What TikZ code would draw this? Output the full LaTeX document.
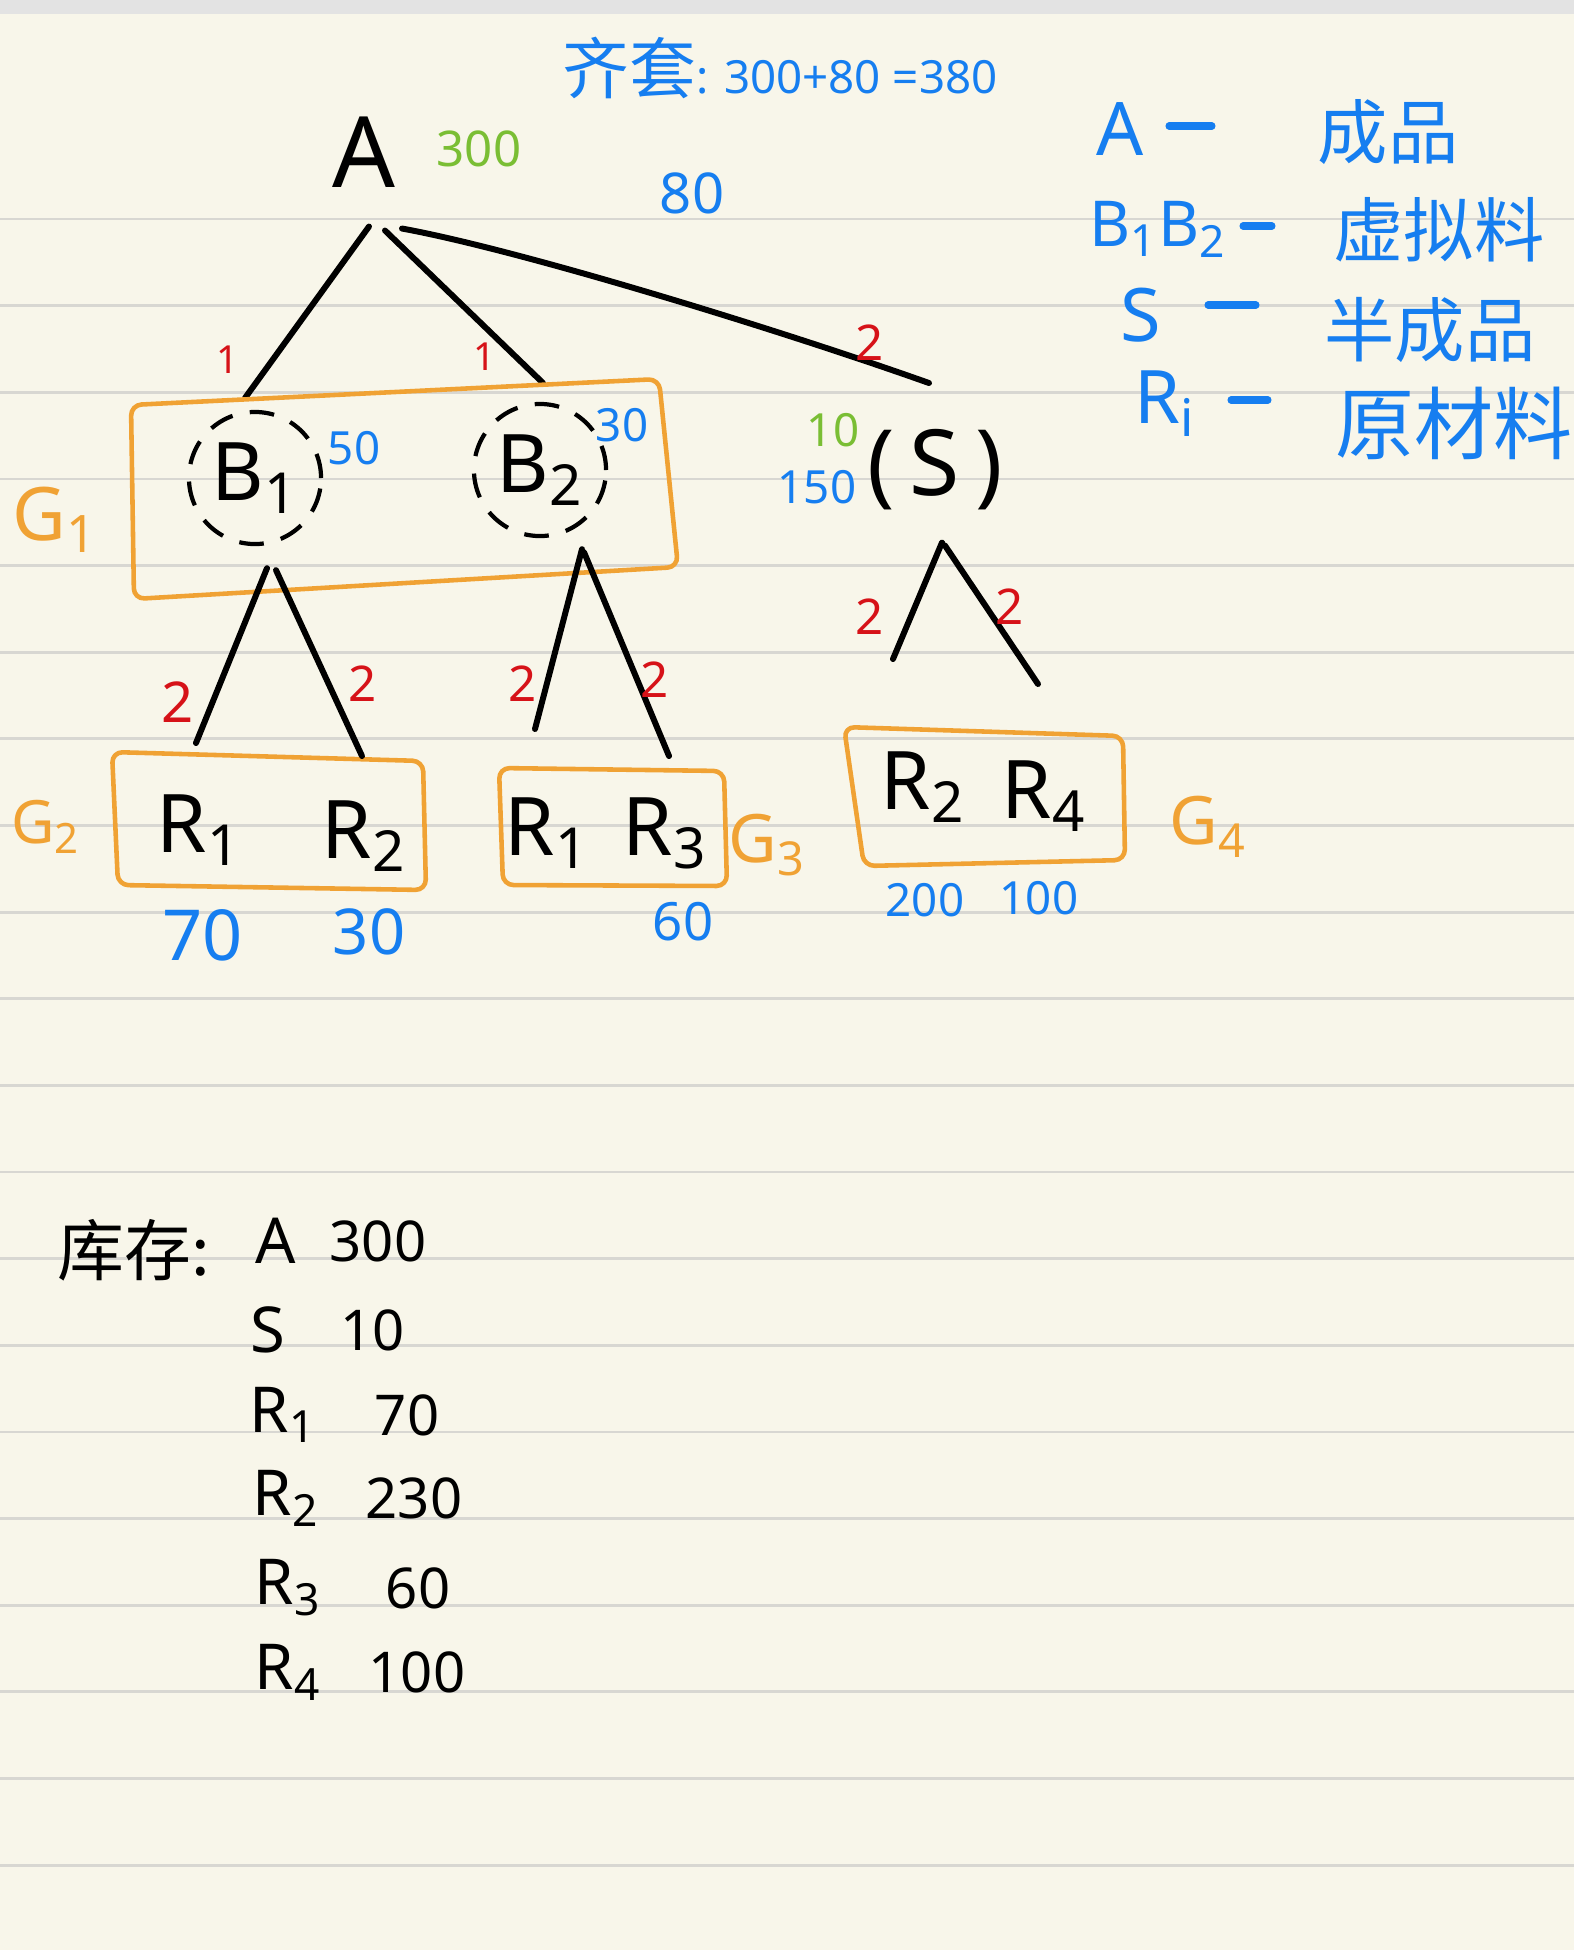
\documentclass[tikz,border=0pt]{standalone}
\usepackage{fontspec}
\setmainfont{Noto Sans}
\newfontfamily\cjk{Noto Sans CJK SC}

\definecolor{paper}{RGB}{248,246,234}
\definecolor{rulegray}{RGB}{216,215,210}
\definecolor{penblue}{RGB}{22,126,240}
\definecolor{pengreen}{RGB}{122,190,52}
\definecolor{penred}{RGB}{214,18,24}
\definecolor{penorange}{RGB}{240,162,52}

\newcommand{\fs}[1]{\fontsize{#1}{#1}\selectfont}

\begin{document}
\begin{tikzpicture}[x=0.01cm, y=-0.01cm,
    edge/.style={line width=1.7pt, line cap=round},
    grp/.style={draw=penorange, line width=1.3pt, rounded corners=3pt, line join=round},
    grplbl/.style={text=penorange, font=\fs{19}},
    part/.style={font=\fs{23}, inner sep=1pt},
    virt/.style={circle, draw, line width=1.2pt, dash pattern=on 7pt off 5pt, minimum size=1.32cm, inner sep=0pt, font=\fs{23}},
    qty/.style={text=penblue, font=\fs{14}},
    onhand/.style={text=pengreen, font=\fs{14}},
    mult/.style={text=penred, font=\fs{14}},
    legend/.style={text=penblue, font=\fs{21}},
    legdash/.style={penblue, line width=2pt, line cap=round},
    legendcn/.style={text=penblue, font=\cjk\fs{20}},
    stock/.style={font=\fs{16}}]

    % paper
    \fill[paper] (0,0) rectangle (1574,1950);
    \fill[gray!22] (0,0) rectangle (1574,14);
    \useasboundingbox (0,0) rectangle (1574,1950);
    \foreach \k in {0,...,19}
        \draw[rulegray, line width=0.8pt] (0,{219+86.64*\k}) -- (1574,{219+86.64*\k});

    % title
    \node[text=penblue, font=\fs{13}] (title) at (780,68) {{\cjk\fs{19}齐套}: 300+80 =380};

    % tree
    \node[part, font=\fs{28}] (A) at (364,152) {A};
    \node[onhand] (Aoh) at (479,149) {300};
    \node[qty, font=\fs{16}] (Aq) at (692,193) {80};

    \node[virt] (B1) at (255,478) {B\textsubscript{1}};
    \node[virt] (B2) at (540,470) {B\textsubscript{2}};
    \node[qty, font=\fs{13}] (B1q) at (354,448) {50};
    \node[qty, font=\fs{13}] (B2q) at (622,425) {30};

    \node[part, font=\fs{26}] (S) at (935,470) {(\,S\,)};
    \node[onhand, font=\fs{13}] (Soh) at (833,430) {10};
    \node[qty, font=\fs{13}] (Sq) at (817,487) {150};

    \coordinate (b1in) at (245,398);
    \coordinate (b2in) at (543,383);
    \coordinate (sin) at (929,383);
    \draw[edge] (A.south) ++(5,35) -- (b1in);
    \draw[edge] (A.south) ++(21,39) -- (b2in);
    \draw[edge] (A.south) ++(38,37) .. controls (520,250) and (780,330) .. (sin);
    \node[mult, font=\fs{11}] at (228,360) {1};
    \node[mult, font=\fs{11}] at (485,357) {1};
    \node[mult] at (870,343) {2};

    % groups
    \draw[grp] (131,405) -- (659,379) -- (678,567) -- (134,599) -- cycle;
    \draw[grp] (112,752) -- (423,761) -- (426,890) -- (118,885) -- cycle;
    \draw[grp] (499,768) -- (724,771) -- (727,886) -- (503,885) -- cycle;
    \draw[grp] (844,727) -- (1123,736) -- (1125,860) -- (864,866) -- cycle;
    \node[grplbl, font=\fs{21}] (G1) at (55,520) {G\textsubscript{1}};
    \node[grplbl, font=\fs{17}] (G2) at (46,827) {G\textsubscript{2}};
    \node[grplbl] (G3) at (767,845) {G\textsubscript{3}};
    \node[grplbl] (G4) at (1208,827) {G\textsubscript{4}};

    \node[part] (g2r1) at (199,830) {R\textsubscript{1}};
    \node[part] (g2r2) at (364,836) {R\textsubscript{2}};
    \node[part] (g3r1) at (547,833) {R\textsubscript{1}};
    \node[part] (g3r3) at (665,833) {R\textsubscript{3}};
    \node[part] (g4r2) at (923,787) {R\textsubscript{2}};
    \node[part] (g4r4) at (1044,796) {R\textsubscript{4}};

    \coordinate (g2l) at (196,743);
    \coordinate (g2r) at (362,756);
    \coordinate (g3l) at (535,729);
    \coordinate (g3r) at (669,756);
    \coordinate (sl) at (893,659);
    \coordinate (sr) at (1038,684);
    \draw[edge] (B1.south) ++(12,22) -- (g2l);
    \draw[edge] (B1.south) ++(21,24) -- (g2r);
    \draw[edge] (B2.south) ++(42,11) -- (g3l);
    \draw[edge] (B2.south) ++(44,14) -- (g3r);
    \draw[edge] (S.south) ++(7,28) -- (sl);
    \draw[edge] (S.south) ++(10,31) -- (sr);
    \node[mult, font=\fs{16}] at (178,702) {2};
    \node[mult] at (363,684) {2};
    \node[mult] at (523,684) {2};
    \node[mult] at (655,680) {2};
    \node[mult] at (870,617) {2};
    \node[mult] at (1010,607) {2};

    \node[qty, font=\fs{20}] (q70) at (203,935) {70};
    \node[qty, font=\fs{18}] (q30) at (369,932) {30};
    \node[qty, font=\fs{15}] (q60) at (683,922) {60};
    \node[qty, font=\fs{13}] (q200) at (925,900) {200};
    \node[qty, font=\fs{13}] (q100) at (1039,898) {100};

    % legend
    \node[legend] (lA) at (1120,129) {A};
    \draw[legdash] (1169,126) -- (1212,126);
    \node[legendcn] (lAcn) at (1388,132) {成品};
    \node[legend, font=\fs{18}] (lB) at (1158,229) {B\textsubscript{1}B\textsubscript{2}};
    \draw[legdash] (1243,226) -- (1272,226);
    \node[legendcn] (lBcn) at (1439,230) {虚拟料};
    \node[legend] (lS) at (1141,315) {S};
    \draw[legdash] (1208,305) -- (1256,305);
    \node[legendcn] (lScn) at (1430,330) {半成品};
    \node[legend] (lR) at (1165,404) {R\textsubscript{i}};
    \draw[legdash] (1231,400) -- (1268,400);
    \node[legendcn, font=\cjk\fs{22.5}] (lRcn) at (1454,423) {原材料};

    % stock
    \node[stock, font=\cjk\fs{19}] (inv) at (134,1250) {库存:};
    \foreach \nm/\nx/\val/\vx/\y [count=\i] in {A/276/300/378/1241, S/268/10/373/1330,
        R\textsubscript{1}/283/70/407/1415, R\textsubscript{2}/286/230/414/1498,
        R\textsubscript{3}/288/60/418/1588, R\textsubscript{4}/288/100/417/1672}
    {
        \node[stock, font=\fs{18}] (inv-n\i) at (\nx,\y) {\nm};
        \node[stock] (inv-v\i) at (\vx,\y) {\val};
    }
\end{tikzpicture}
\end{document}
